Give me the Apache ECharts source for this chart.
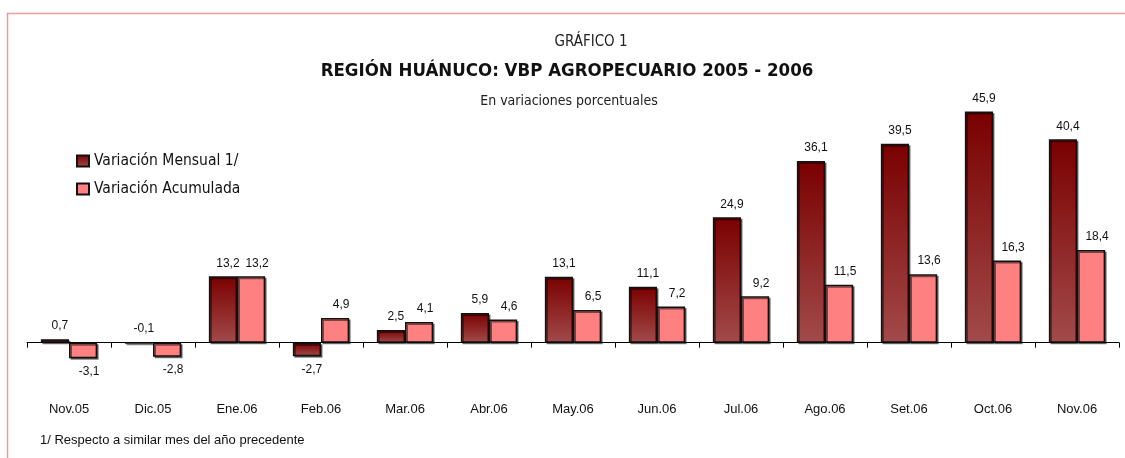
<!DOCTYPE html>
<html>
<head>
<meta charset="utf-8">
<script src="https://cdn.jsdelivr.net/npm/echarts@6/dist/echarts.min.js"></script>
<style>
  html, body { margin: 0; padding: 0; background: #fff; }
  #chart { width: 1125px; height: 458px; }
</style>
</head>
<body>
<div id="chart"></div>
<script>
  // data
  var months = ["Nov.05", "Dic.05", "Ene.06", "Feb.06", "Mar.06", "Abr.06", "May.06",
                "Jun.06", "Jul.06", "Ago.06", "Set.06", "Oct.06", "Nov.06"];
  var mensual = [0.7, -0.1, 13.2, -2.7, 2.5, 5.9, 13.1, 11.1, 24.9, 36.1, 39.5, 45.9, 40.4];
  var acumulada = [-3.1, -2.8, 13.2, 4.9, 4.1, 4.6, 6.5, 7.2, 9.2, 11.5, 13.6, 16.3, 18.4];

  var narrow = "'Liberation Sans Narrow', 'DejaVu Sans Condensed', sans-serif";
  var sans = "'Liberation Sans', Arial, sans-serif";

  function fmt(v) {
    return v.toFixed(1).replace('.', ',');
  }

  // dark bars: label above, except the clearly negative one
  function mensualData() {
    return mensual.map(function (v) {
      return {
        value: v,
        label: { position: v < -1 ? 'bottom' : 'top' }
      };
    });
  }
  function acumData() {
    return acumulada.map(function (v) {
      return {
        value: v,
        label: { position: v < 0 ? 'bottom' : 'top' }
      };
    });
  }

  var darkFill = new echarts.graphic.LinearGradient(0, 0, 0, 1, [
    { offset: 0, color: '#7a0000' },
    { offset: 1, color: '#a24a4a' }
  ]);

  var myChart = echarts.init(document.getElementById('chart'));

  var option = {
    animation: false,
    backgroundColor: '#fff',
    title: [
      {
        text: 'GRÁFICO 1',
        left: 586, top: 30, textAlign: 'center',
        textStyle: { fontFamily: narrow, fontSize: 15, fontWeight: 'normal', color: '#222' }
      },
      {
        text: 'REGIÓN HUÁNUCO: VBP AGROPECUARIO 2005 - 2006',
        left: 562, top: 57, textAlign: 'center',
        textStyle: { fontFamily: narrow, fontSize: 18.5, fontWeight: 'bold', color: '#111' }
      },
      {
        text: 'En variaciones porcentuales',
        left: 564, top: 89, textAlign: 'center',
        textStyle: { fontFamily: narrow, fontSize: 14, fontWeight: 'normal', color: '#222' }
      }
    ],
    legend: {
      orient: 'vertical',
      left: 71, top: 148,
      icon: 'rect',
      itemWidth: 12, itemHeight: 11, itemGap: 12,
      textStyle: { fontFamily: narrow, fontSize: 15.5, color: '#111' },
      data: ['Variación Mensual 1/', 'Variación Acumulada']
    },
    grid: { left: 27, right: 6, top: 101, bottom: 65 },
    xAxis: [
      {
        type: 'category',
        data: months,
        axisLine: { onZero: true, lineStyle: { color: '#000', width: 1 } },
        axisTick: { show: true, length: 5, lineStyle: { color: '#000' } },
        axisLabel: { show: false }
      },
      {
        type: 'category',
        data: months,
        position: 'bottom',
        axisLine: { show: false, onZero: false },
        axisTick: { show: false },
        axisLabel: { margin: 10, fontFamily: sans, fontSize: 13, color: '#111' }
      }
    ],
    yAxis: {
      type: 'value',
      min: -10, max: 48,
      show: false,
      splitLine: { show: false }
    },
    series: [
      {
        name: 'Variación Mensual 1/',
        type: 'bar',
        xAxisIndex: 0,
        barGap: '0%',
        barCategoryGap: '33%',
        data: mensualData(),
        itemStyle: {
          color: darkFill,
          borderColor: '#111', borderWidth: 1.5,
          shadowColor: 'rgba(0,0,0,0.5)', shadowOffsetX: 1.5, shadowOffsetY: 1.5, shadowBlur: 0
        },
        label: {
          show: true, distance: 7, offset: [5, 0],
          fontFamily: sans, fontSize: 12, color: '#111',
          formatter: function (p) { return fmt(p.value); }
        }
      },
      {
        name: 'Variación Acumulada',
        type: 'bar',
        xAxisIndex: 0,
        data: acumData(),
        itemStyle: {
          color: '#ff8080',
          borderColor: '#111', borderWidth: 1.5,
          shadowColor: 'rgba(0,0,0,0.5)', shadowOffsetX: 1.5, shadowOffsetY: 1.5, shadowBlur: 0
        },
        label: {
          show: true, distance: 7, offset: [6, 0],
          fontFamily: sans, fontSize: 12, color: '#111',
          formatter: function (p) { return fmt(p.value); }
        }
      }
    ],
    graphic: [
      {
        type: 'rect',
        shape: { x: 7.5, y: 13.5, width: 1130, height: 460 },
        style: { fill: 'none', stroke: '#f29a9a', lineWidth: 1.5 },
        silent: true
      },
      {
        type: 'text',
        left: 40, top: 434,
        style: {
          text: '1/ Respecto a similar mes del año precedente',
          fontFamily: sans, fontSize: 13, fill: '#111'
        }
      }
    ]
  };
  myChart.setOption(option);
</script>
</body>
</html>
